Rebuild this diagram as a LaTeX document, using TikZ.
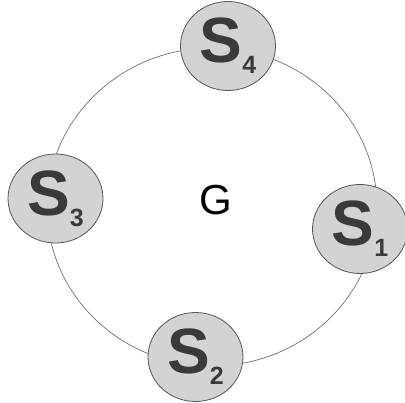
\documentclass[tikz,border=0pt]{standalone}
\usepackage{fontspec}
\setmainfont{Liberation Sans}
\usetikzlibrary{shapes.geometric}
\definecolor{ringgray}{HTML}{707070}
\definecolor{nodefill}{HTML}{D3D3D3}
\definecolor{nodeedge}{HTML}{555555}
\definecolor{txtgray}{HTML}{3A3A3A}
\newcommand{\Slab}[1]{{\fontsize{64}{64}\selectfont\bfseries S}\raisebox{-11pt}{\fontsize{25}{25}\selectfont\bfseries #1}}
\begin{document}
\begin{tikzpicture}[x=1pt,y=-1pt,
  snode/.style={ellipse, draw=nodeedge, line width=0.8pt, fill=nodefill, inner sep=0pt,
    minimum width=95pt, minimum height=89pt, text=txtgray},
  ring/.style={draw=ringgray, line width=0.7pt}]
\useasboundingbox (0,0) rectangle (405,403);
\path[ring] (212,207) ellipse [x radius=165, y radius=159];
\node[snode] (s4) at (228,46) {\Slab{4}};
\node[snode] (s1) at (360,229) {\Slab{1}};
\node[snode] (s2) at (195.5,357) {\Slab{2}};
\node[snode] (s3) at (55.5,198.5) {\Slab{3}};
\node[font=\fontsize{42}{42}\selectfont, text=black] (g) at (216,200) {G};
\end{tikzpicture}
\end{document}
